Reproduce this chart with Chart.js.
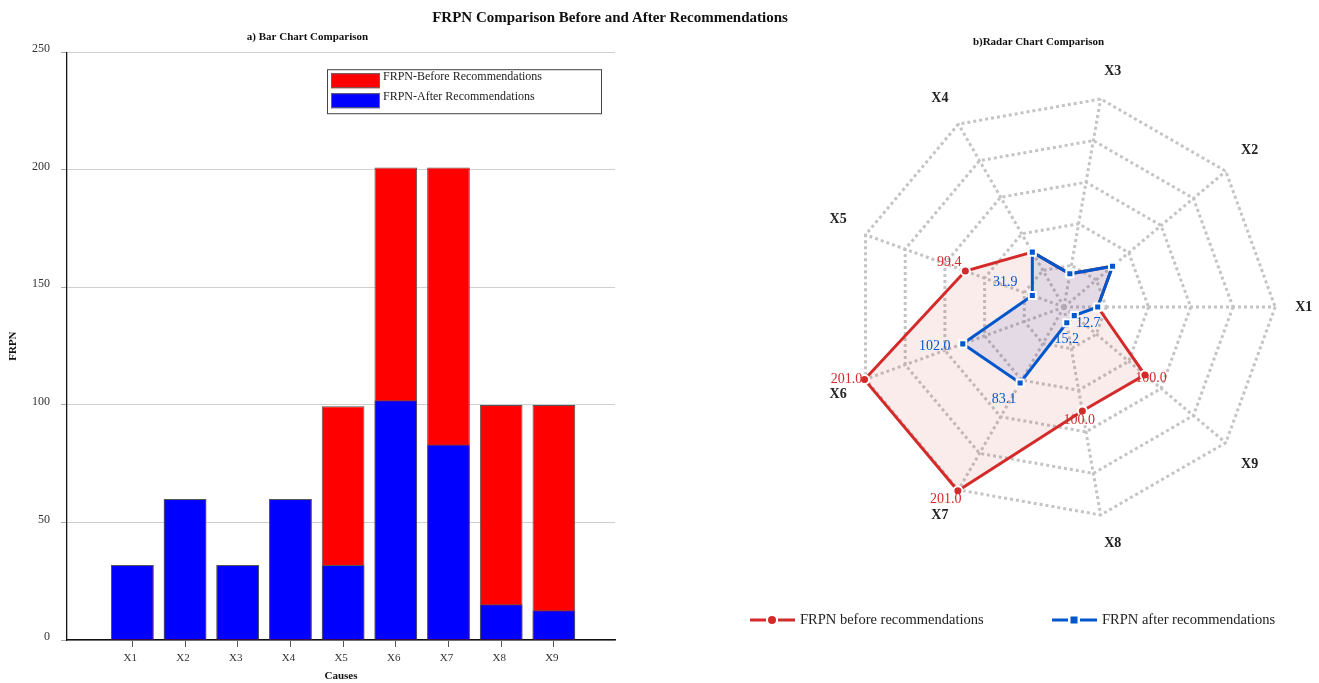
<!DOCTYPE html>
<html>
<head>
<meta charset="utf-8">
<script src="https://cdn.jsdelivr.net/npm/chart.js@4.4.1/dist/chart.umd.min.js"></script>
<style>
html, body { margin: 0; padding: 0; background: #fff; overflow: hidden; width: 1319px; height: 683px; }
.box { position: absolute; }
.ttl { position: absolute; font-family: 'Liberation Serif', 'Times New Roman', serif; font-weight: bold; color: #111; text-align: center; white-space: nowrap; }
</style>
</head>
<body>
<div class="box" style="left:0;top:0;width:640px;height:683px;"><canvas id="barChart" width="640" height="683"></canvas></div>
<div class="box" style="left:700px;top:30px;width:640px;height:600px;"><canvas id="radarChart" width="640" height="600"></canvas></div>
<div class="ttl" style="left:0;width:1220px;top:8px;font-size:15px;line-height:18px;">FRPN Comparison Before and After Recommendations</div>
<div class="ttl" style="left:938px;width:201px;top:34px;font-size:11px;line-height:14px;">b)Radar Chart Comparison</div>
<script>
// data
var causes = ['X1', 'X2', 'X3', 'X4', 'X5', 'X6', 'X7', 'X8', 'X9'];
var frpnBefore = [31.9, 60.0, 31.9, 60.0, 99.4, 201.0, 201.0, 100.0, 100.0];
var frpnAfter = [31.9, 60.0, 31.9, 60.0, 31.9, 102.0, 83.1, 15.2, 12.7];
var barTicks = [0, 50, 100, 150, 200, 250];
var radarTicks = [0, 40, 80, 120, 160, 200];
var labelledCauses = ['X5', 'X6', 'X7', 'X8', 'X9'];
// radar axes run counter-clockwise starting at the right
var radarOrder = [0, 8, 7, 6, 5, 4, 3, 2, 1];

Chart.defaults.font.family = "'Liberation Serif', 'Times New Roman', serif";
Chart.defaults.color = '#222';

// legend in a framed box, top right of the plot
var boxLegend = {
  id: 'boxLegend',
  afterDraw: function(chart, args, opts) {
    var ctx = chart.ctx, area = chart.chartArea;
    var x = area.right - opts.right - opts.width, y = area.top + opts.top;
    ctx.save();
    ctx.fillStyle = '#fff';
    ctx.fillRect(x, y, opts.width, opts.height);
    ctx.strokeStyle = '#444';
    ctx.lineWidth = 1;
    ctx.strokeRect(x + 0.5, y + 0.5, opts.width, opts.height);
    ctx.font = opts.fontSize + "px 'Liberation Serif'";
    ctx.textBaseline = 'middle';
    chart.data.datasets.forEach(function(ds, i) {
      var sy = y + 4 + i * 20;
      ctx.fillStyle = ds.backgroundColor;
      ctx.fillRect(x + 4, sy, 49, 15);
      ctx.strokeStyle = '#666';
      ctx.strokeRect(x + 4.5, sy + 0.5, 48, 14);
      ctx.fillStyle = '#222';
      ctx.fillText(ds.label, x + 56, sy + 4);
    });
    ctx.restore();
  }
};

// value labels next to the radar points
var valueTags = {
  id: 'valueTags',
  afterDatasetsDraw: function(chart, args, opts) {
    var ctx = chart.ctx;
    ctx.save();
    ctx.font = opts.fontSize + "px 'Liberation Serif'";
    ctx.textAlign = 'center';
    ctx.textBaseline = 'middle';
    chart.data.datasets.forEach(function(ds, di) {
      var meta = chart.getDatasetMeta(di);
      var shifts = opts.shifts[di];
      chart.data.labels.forEach(function(lab, i) {
        if (labelledCauses.indexOf(lab) < 0) return;
        var pt = meta.data[i], s = shifts[lab];
        ctx.fillStyle = ds.borderColor;
        ctx.fillText(ds.data[i].toFixed(1), pt.x + s[0], pt.y + s[1]);
      });
    });
    ctx.restore();
  }
};

// line + marker legend under the radar
var lineLegend = {
  id: 'lineLegend',
  afterDraw: function(chart, args, opts) {
    var ctx = chart.ctx;
    ctx.save();
    ctx.font = opts.fontSize + "px 'Liberation Serif'";
    ctx.textBaseline = 'middle';
    chart.data.datasets.forEach(function(ds, i) {
      var x0 = opts.starts[i], y = opts.y;
      ctx.strokeStyle = ds.borderColor;
      ctx.lineWidth = 3;
      ctx.beginPath();
      ctx.moveTo(x0, y); ctx.lineTo(x0 + 16, y);
      ctx.moveTo(x0 + 28, y); ctx.lineTo(x0 + 45, y);
      ctx.stroke();
      ctx.fillStyle = ds.borderColor;
      if (ds.pointStyle === 'rect') {
        ctx.fillRect(x0 + 18.5, y - 3.5, 7, 7);
      } else {
        ctx.beginPath();
        ctx.arc(x0 + 22, y, 4, 0, Math.PI * 2);
        ctx.fill();
      }
      ctx.fillStyle = '#222';
      ctx.fillText(ds.label, x0 + 50, y);
    });
    ctx.restore();
  }
};

new Chart(document.getElementById('barChart'), {
  type: 'bar',
  data: {
    datasets: [{
      label: 'FRPN-Before Recommendations',
      data: frpnBefore.map(function(v, i) { return {x: i, y: v}; }),
      backgroundColor: '#ff0000',
      borderColor: '#555',
      borderWidth: 1,
      grouped: false,
      order: 2,
      barPercentage: 0.81,
      categoryPercentage: 1
    }, {
      label: 'FRPN-After Recommendations',
      data: frpnAfter.map(function(v, i) { return {x: i, y: v}; }),
      backgroundColor: '#0000ff',
      borderColor: '#555',
      borderWidth: 1,
      grouped: false,
      order: 1,
      barPercentage: 0.81,
      categoryPercentage: 1
    }]
  },
  options: {
    responsive: false,
    animation: false,
    layout: { padding: { left: 0, right: 25, top: 0, bottom: 0 } },
    plugins: {
      legend: { display: false },
      tooltip: { enabled: false },
      title: {
        display: true,
        text: 'a) Bar Chart Comparison',
        color: '#111',
        font: { size: 11, weight: 'bold' },
        padding: { top: 31, bottom: 8 }
      },
      boxLegend: { right: 14, top: 17, width: 274, height: 44, fontSize: 12 }
    },
    scales: {
      x: {
        type: 'linear',
        min: -1.24,
        max: 9.16,
        offset: false,
        afterBuildTicks: function(ax) { ax.ticks = causes.map(function(c, i) { return {value: i}; }); },
        afterFit: function(ax) { ax.height = 43; },
        ticks: {
          callback: function(v) { return causes[v]; },
          autoSkip: false,
          maxRotation: 0,
          font: { size: 11 },
          color: '#333',
          padding: 5,
          labelOffset: -2
        },
        grid: { offset: false, drawOnChartArea: false, tickLength: 7, tickColor: '#555' },
        border: { color: '#111', width: 1.5 },
        title: { display: true, text: 'Causes', color: '#111', font: { size: 11, weight: 'bold' }, padding: { top: 0, bottom: 0 } }
      },
      y: {
        min: barTicks[0],
        max: barTicks[barTicks.length - 1],
        afterBuildTicks: function(ax) { ax.ticks = barTicks.map(function(v) { return {value: v}; }); },
        afterFit: function(ax) { ax.width = 67; },
        ticks: { font: { size: 12 }, color: '#333', padding: 11, labelOffset: -3 },
        grid: { color: '#cfcfcf', tickLength: 6, tickColor: '#aaa' },
        border: { color: '#111', width: 1.3 },
        title: { display: true, text: 'FRPN', color: '#111', font: { size: 11, weight: 'bold' }, padding: { top: 7, bottom: 0 } }
      }
    }
  },
  plugins: [boxLegend]
});

new Chart(document.getElementById('radarChart'), {
  type: 'radar',
  data: {
    labels: radarOrder.map(function(i) { return causes[i]; }),
    datasets: [{
      label: 'FRPN before recommendations',
      data: radarOrder.map(function(i) { return frpnBefore[i]; }),
      borderColor: '#d42a2a',
      backgroundColor: 'rgba(212,42,42,0.09)',
      borderWidth: 3,
      fill: true,
      pointStyle: 'circle',
      pointRadius: 4.5,
      pointBackgroundColor: '#d42a2a',
      pointBorderColor: '#fff',
      pointBorderWidth: 2,
      order: 2
    }, {
      label: 'FRPN after recommendations',
      data: radarOrder.map(function(i) { return frpnAfter[i]; }),
      borderColor: '#0057cc',
      backgroundColor: 'rgba(20,60,170,0.1)',
      borderWidth: 3,
      fill: true,
      pointStyle: 'rect',
      pointRadius: 5,
      pointBackgroundColor: '#0057cc',
      pointBorderColor: '#fff',
      pointBorderWidth: 2,
      order: 1
    }]
  },
  options: {
    responsive: false,
    animation: false,
    layout: { padding: { top: 32.5, bottom: 77.5, left: 109, right: 5 } },
    plugins: {
      legend: { display: false },
      tooltip: { enabled: false },
      valueTags: {
        fontSize: 14,
        shifts: [
          { X5: [-16, -9], X6: [-18, 0], X7: [-12, 8], X8: [-3, 9], X9: [6, 3] },
          { X5: [-27, -13], X6: [-28, 2], X7: [-16, 16], X8: [0, 17], X9: [14, 8] }
        ]
      },
      lineLegend: { starts: [50, 352], y: 590, fontSize: 14.5 }
    },
    scales: {
      r: {
        min: radarTicks[0],
        max: radarTicks[radarTicks.length - 1],
        startAngle: 90,
        afterBuildTicks: function(ax) { ax.ticks = radarTicks.map(function(v) { return {value: v}; }); },
        ticks: { display: false },
        grid: { color: '#c4c4c4', lineWidth: 3 },
        border: { dash: [3, 3] },
        angleLines: { color: '#c4c4c4', lineWidth: 3, borderDash: [3, 3] },
        pointLabels: { font: { size: 14, weight: 'bold' }, color: '#222', padding: 20 }
      }
    }
  },
  plugins: [valueTags, lineLegend]
});
</script>
</body>
</html>
